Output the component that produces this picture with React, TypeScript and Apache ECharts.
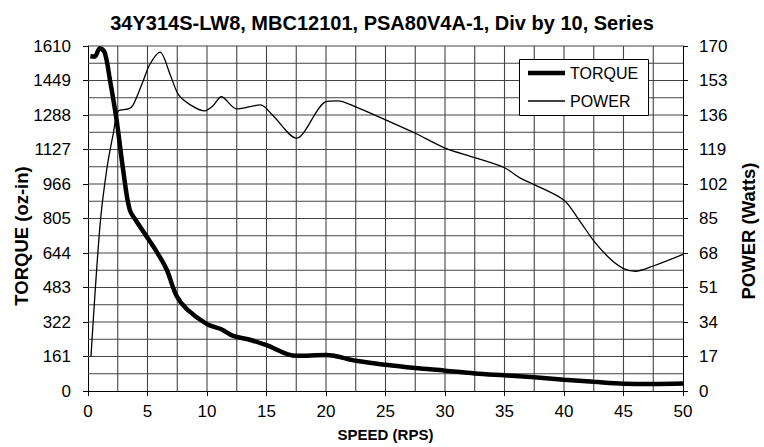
import React, { useEffect, useRef } from "react";
import * as echarts from "echarts";

const titleText = "34Y314S-LW8, MBC12101, PSA80V4A-1, Div by 10, Series";

const torqueSpeed = [0.2, 0.55, 1.0, 1.4, 1.85, 2.4, 2.95, 3.5, 4.1, 4.9, 5.8, 6.6, 7.45, 8.3, 10, 11.2, 12.2, 13.6, 15, 17.5, 20, 22.5, 25, 27.5, 30, 32.5, 35, 37.5, 40, 42.5, 45, 47.5, 50];
const torque = [1562, 1560, 1600, 1580, 1450, 1266, 1033, 847, 790, 723, 647, 568, 443, 382, 312, 288, 257, 239, 214, 164, 168, 141, 122, 107, 95, 82, 73, 64, 53, 43, 34, 33, 35];

const powerSpeed = [0.25, 1.0, 1.57, 2.13, 2.55, 3.4, 3.8, 4.65, 5.2, 6.05, 6.9, 7.6, 8.6, 9.8, 10.5, 11.2, 12.5, 14.5, 15.5, 17.5, 20, 21, 22.5, 25, 27.5, 30, 32.5, 35, 36.3, 37.5, 40, 41.3, 42.5, 43.9, 45, 46, 47.5, 50];
const power = [17, 81, 109, 127, 138, 139, 141, 153, 161, 167, 156, 146, 141, 138, 140.5, 145, 139, 141, 136, 124.6, 142.6, 143, 140, 133.6, 127, 119.7, 115, 110, 105, 101.7, 94, 84, 74, 65, 60.3, 59, 61.6, 67.3];

const seriesNames = ["TORQUE", "POWER"];
const xAxisName = "SPEED (RPS)";
const leftAxisName = "TORQUE (oz-in)";
const rightAxisName = "POWER (Watts)";

// grid line positions (every half of a labelled interval)
const gridSpeeds = [2.5, 5, 7.5, 10, 12.5, 15, 17.5, 20, 22.5, 25, 27.5, 30, 32.5, 35, 37.5, 40, 42.5, 45, 47.5];
const gridTorques = [80.5, 161, 241.5, 322, 402.5, 483, 563.5, 644, 724.5, 805, 885.5, 966, 1046.5, 1127, 1207.5, 1288, 1368.5, 1449, 1529.5, 1610];

const FONT = 'Arial, "Liberation Sans", sans-serif';
const X_MAX = 50;
const T_MAX = 1610;

export default function App() {
  const ref = useRef<HTMLDivElement>(null);
  useEffect(() => {
    if (!ref.current) return;
    const chart = echarts.init(ref.current, undefined, { renderer: "svg" });
    const gridColor = "#444444";
    const gridWidth = 1.1;
    const plain = (v: number) => String(v);
    chart.setOption({
      animation: false,
      title: {
        text: titleText,
        left: "center",
        top: 8,
        textStyle: { fontFamily: FONT, fontSize: 20, fontWeight: "bold", color: "#000" },
      },
      grid: { left: 88, right: 81, top: 46, bottom: 55 },
      legend: {
        orient: "vertical",
        left: 519,
        top: 59,
        z: 20,
        padding: [6, 13, 6, 9],
        itemGap: 12,
        itemWidth: 37,
        itemHeight: 14,
        borderWidth: 0,
        textStyle: { fontFamily: FONT, fontSize: 16, color: "#000", lineHeight: 16 },
        data: [
          { name: seriesNames[0], icon: "path://M0,0h37v4.5h-37z", itemStyle: { color: "#000" } },
          { name: seriesNames[1], icon: "path://M0,0h37v1.3h-37z", itemStyle: { color: "#000" } },
        ],
      },
      xAxis: {
        type: "value",
        min: 0,
        max: X_MAX,
        interval: 5,
        name: xAxisName,
        nameLocation: "middle",
        nameGap: 36,
        nameTextStyle: { fontFamily: FONT, fontSize: 15, fontWeight: "bold", color: "#000" },
        axisLine: { show: true, lineStyle: { color: "#000", width: 1 } },
        axisTick: { show: true, length: 5, lineStyle: { color: "#000" } },
        axisLabel: { fontFamily: FONT, fontSize: 17, color: "#000", margin: 12, formatter: plain },
        splitLine: { show: false },
      },
      yAxis: [
        {
          type: "value",
          min: 0,
          max: T_MAX,
          interval: 161,
          position: "left",
          axisLine: { show: true, lineStyle: { color: "#000", width: 1 } },
          axisTick: { show: true, length: 5, lineStyle: { color: "#000" } },
          axisLabel: { fontFamily: FONT, fontSize: 17, color: "#000", margin: 17, formatter: plain },
          splitLine: { show: false },
        },
        {
          type: "value",
          min: 0,
          max: 170,
          interval: 17,
          position: "right",
          axisLine: { show: true, lineStyle: { color: "#000", width: 1 } },
          axisTick: { show: true, length: 5, lineStyle: { color: "#000" } },
          axisLabel: { fontFamily: FONT, fontSize: 17, color: "#000", margin: 16, formatter: plain },
          splitLine: { show: false },
        },
      ],
      graphic: [
        {
          type: "rect",
          z: 15,
          shape: { x: 519.5, y: 59.5, width: 129, height: 56 },
          style: { fill: "#ffffff", stroke: "#000000", lineWidth: 1 },
          silent: true,
        },
        {
          type: "text",
          x: 21,
          y: 236,
          rotation: Math.PI / 2,
          style: {
            text: leftAxisName,
            fontFamily: FONT,
            fontSize: 18.5,
            fontWeight: "bold",
            fill: "#000",
            align: "center",
            verticalAlign: "middle",
          },
        },
        {
          type: "text",
          x: 748,
          y: 231,
          rotation: Math.PI / 2,
          style: {
            text: rightAxisName,
            fontFamily: FONT,
            fontSize: 18.5,
            fontWeight: "bold",
            fill: "#000",
            align: "center",
            verticalAlign: "middle",
          },
        },
      ],
      series: [
        {
          name: "vgrid",
          type: "custom",
          xAxisIndex: 0,
          yAxisIndex: 0,
          silent: true,
          z: 1,
          data: gridSpeeds.map((v) => [v, 0]),
          renderItem: (params: any, api: any) => {
            const x = api.value(0);
            const p1 = api.coord([x, 0]);
            const p2 = api.coord([x, T_MAX]);
            return {
              type: "line",
              shape: { x1: p1[0], y1: p1[1], x2: p2[0], y2: p2[1] },
              style: { stroke: gridColor, lineWidth: gridWidth },
            };
          },
        },
        {
          name: "hgrid",
          type: "custom",
          xAxisIndex: 0,
          yAxisIndex: 0,
          silent: true,
          z: 1,
          data: gridTorques.map((v) => [0, v]),
          renderItem: (params: any, api: any) => {
            const y = api.value(1);
            const p1 = api.coord([0, y]);
            const p2 = api.coord([X_MAX, y]);
            return {
              type: "line",
              shape: { x1: p1[0], y1: p1[1], x2: p2[0], y2: p2[1] },
              style: { stroke: gridColor, lineWidth: gridWidth },
            };
          },
        },
        {
          name: seriesNames[0],
          type: "line",
          xAxisIndex: 0,
          yAxisIndex: 0,
          data: torqueSpeed.map((s, i) => [s, torque[i]]),
          smooth: 0.35,
          symbol: "none",
          lineStyle: { color: "#000", width: 4.5 },
          itemStyle: { color: "#000" },
          z: 3,
        },
        {
          name: seriesNames[1],
          type: "line",
          xAxisIndex: 0,
          yAxisIndex: 1,
          data: powerSpeed.map((s, i) => [s, power[i]]),
          smooth: 0.3,
          symbol: "none",
          lineStyle: { color: "#000", width: 1.3 },
          itemStyle: { color: "#000" },
          z: 2,
        },
      ],
    });
    return () => chart.dispose();
  }, []);
  return (
    <div
      ref={ref}
      style={{ position: "fixed", left: 0, top: 0, width: 764, height: 447, background: "#fff" }}
    />
  );
}
